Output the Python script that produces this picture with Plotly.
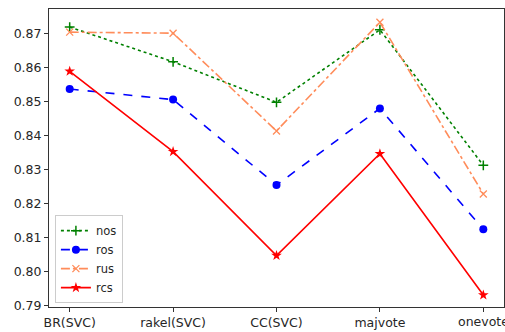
import plotly.graph_objects as go

categories = ["BR(SVC)", "rakel(SVC)", "CC(SVC)", "majvote", "onevote"]
nos = [0.8718, 0.8616, 0.8497, 0.8710, 0.8312]
ros = [0.8536, 0.8505, 0.8254, 0.8479, 0.8124]
rus = [0.8703, 0.8700, 0.8413, 0.8732, 0.8228]
rcs = [0.8588, 0.8352, 0.8047, 0.8346, 0.7931]
y_ticks = [0.79, 0.80, 0.81, 0.82, 0.83, 0.84, 0.85, 0.86, 0.87]

x_idx = list(range(len(categories)))
font = dict(family="DejaVu Sans", size=12.5, color="#262626")

series = [
    ("nos", nos, "#008000", "dot", "cross-thin-open", 7, 1.5),
    ("ros", ros, "#0000ff", "dash", "circle", 8, 0),
    ("rus", rus, "#ff8c5a", "dashdot", "x-thin-open", 7, 1.3),
    ("rcs", rcs, "#ff0000", "solid", "star", 8, 0),
]

fig = go.Figure()
for name, vals, color, dash, symbol, size, mlw in series:
    fig.add_trace(go.Scatter(
        x=x_idx, y=vals, name=name, mode="lines+markers",
        line=dict(color=color, dash=dash, width=1.6),
        marker=dict(symbol=symbol, size=size, color=color,
                    line=dict(color=color, width=mlw)),
    ))

axis_common = dict(
    showgrid=False, zeroline=False, showline=True, mirror=True,
    linecolor="#333333", linewidth=1, ticks="outside", ticklen=4,
    tickcolor="#333333", tickfont=font,
)

# the last category label runs past the right edge of the figure, so it is
# drawn as an annotation (which may be clipped) instead of an axis tick label
ticktext = categories[:-1] + [""]

fig.update_layout(
    width=505, height=332,
    margin=dict(l=49, r=1, t=9, b=25),
    paper_bgcolor="white", plot_bgcolor="white",
    font=font,
    xaxis=dict(range=[-0.2, 4.2], tickmode="array", tickvals=x_idx,
               ticktext=ticktext, **axis_common),
    yaxis=dict(range=[0.7896, 0.8771], tickmode="array", tickvals=y_ticks,
               ticktext=[f"{v:.2f}" for v in y_ticks], **axis_common),
    legend=dict(x=0.013, y=0.013, xanchor="left", yanchor="bottom",
                bgcolor="rgba(255,255,255,0.8)", bordercolor="#cccccc",
                borderwidth=1, font=dict(family="DejaVu Sans", size=11.5,
                                         color="#262626"),
                tracegroupgap=0, itemwidth=30),
    showlegend=True,
)

fig.add_annotation(
    x=x_idx[-1], xref="x", y=0, yref="paper", yshift=-5,
    text=categories[-1], showarrow=False, yanchor="top", xanchor="center",
    font=font,
)

fig.write_html("out.html")
